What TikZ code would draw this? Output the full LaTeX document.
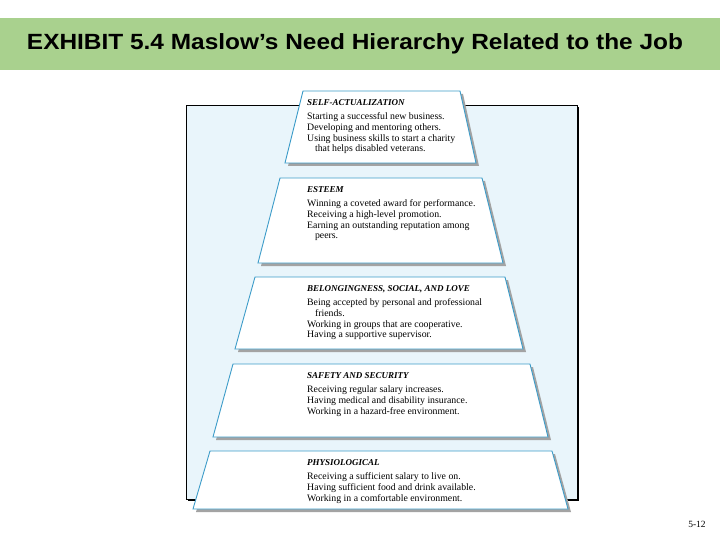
\documentclass[tikz,border=0pt]{standalone}
\usepackage{fontspec}
\usepackage{graphicx}
\setmainfont{Liberation Serif}
\newfontfamily\headfont{Liberation Sans}
\definecolor{band}{HTML}{A9D18E}
\definecolor{panel}{HTML}{E9F5FB}
\definecolor{edge}{HTML}{3D9CC9}
\definecolor{shade}{HTML}{A3A3A3}
\tikzset{
  lvl/.style={fill=white,draw=edge,line width=0.9pt,line join=miter},
  lvlshadow/.style={fill=shade},
  lvltext/.style={anchor=north west,inner sep=0pt,align=left,
    font=\fontsize{9.8}{10.7}\selectfont},
}
\newcommand{\lvltitle}[1]{{\fontsize{9}{10}\selectfont\bfseries\itshape #1}\\[3.4pt]}
\begin{document}
\begin{tikzpicture}[x=1pt,y=-1pt]
\useasboundingbox (0,0) rectangle (720,540);
\fill[white] (0,0) rectangle (720,540);
% title band
\fill[band] (0,18) rectangle (720,70);
\node[inner sep=0pt] (title) at (355,43.5) {\resizebox{656pt}{\height}{\headfont\fontsize{22}{24}\selectfont\bfseries EXHIBIT 5.4 Maslow’s Need Hierarchy Related to the Job}};
% panel
\fill[black] (188,107) rectangle (579,501);
\draw[fill=panel,draw=black,line width=0.6pt] (186,105) rectangle (577,499);
% level 1
\fill[lvlshadow] (306,94) -- (463,94) -- (479,166) -- (288,166) -- cycle;
\draw[lvl] (303,91) -- (460,91) -- (476,163) -- (285,163) -- cycle;
\node[lvltext] (self) at (307,99.5) {\lvltitle{SELF-ACTUALIZATION}Starting a successful new business.\\Developing and mentoring others.\\Using business skills to start a charity\\\hspace{0.8em}that helps disabled veterans.};
% level 2
\fill[lvlshadow] (283,181) -- (485,181) -- (506,266) -- (261,266) -- cycle;
\draw[lvl] (280,178) -- (482,178) -- (503,263) -- (258,263) -- cycle;
\node[lvltext] (esteem) at (307,186.5) {\lvltitle{ESTEEM}Winning a coveted award for performance.\\Receiving a high-level promotion.\\Earning an outstanding reputation among\\\hspace{0.8em}peers.};
% level 3
\fill[lvlshadow] (258,280) -- (508,280) -- (526,352) -- (238,352) -- cycle;
\draw[lvl] (255,277) -- (505,277) -- (523,349) -- (235,349) -- cycle;
\node[lvltext] (belong) at (307,285.5) {\lvltitle{BELONGINGNESS, SOCIAL, AND LOVE}Being accepted by personal and professional\\\hspace{0.8em}friends.\\Working in groups that are cooperative.\\Having a supportive supervisor.};
% level 4
\fill[lvlshadow] (236,367) -- (533,367) -- (551,440) -- (216,440) -- cycle;
\draw[lvl] (233,364) -- (530,364) -- (548,437) -- (213,437) -- cycle;
\node[lvltext] (safety) at (307,372.5) {\lvltitle{SAFETY AND SECURITY}Receiving regular salary increases.\\Having medical and disability insurance.\\Working in a hazard-free environment.};
% level 5
\fill[lvlshadow] (213,454) -- (555,454) -- (571,512) -- (196,512) -- cycle;
\draw[lvl] (210,451) -- (552,451) -- (568,509) -- (193,509) -- cycle;
\node[lvltext] (physio) at (307,459.5) {\lvltitle{PHYSIOLOGICAL}Receiving a sufficient salary to live on.\\Having sufficient food and drink available.\\Working in a comfortable environment.};
% page number
\node[font=\fontsize{9.5}{10}\selectfont] (page) at (697,524) {5-12};
\end{tikzpicture}
\end{document}
